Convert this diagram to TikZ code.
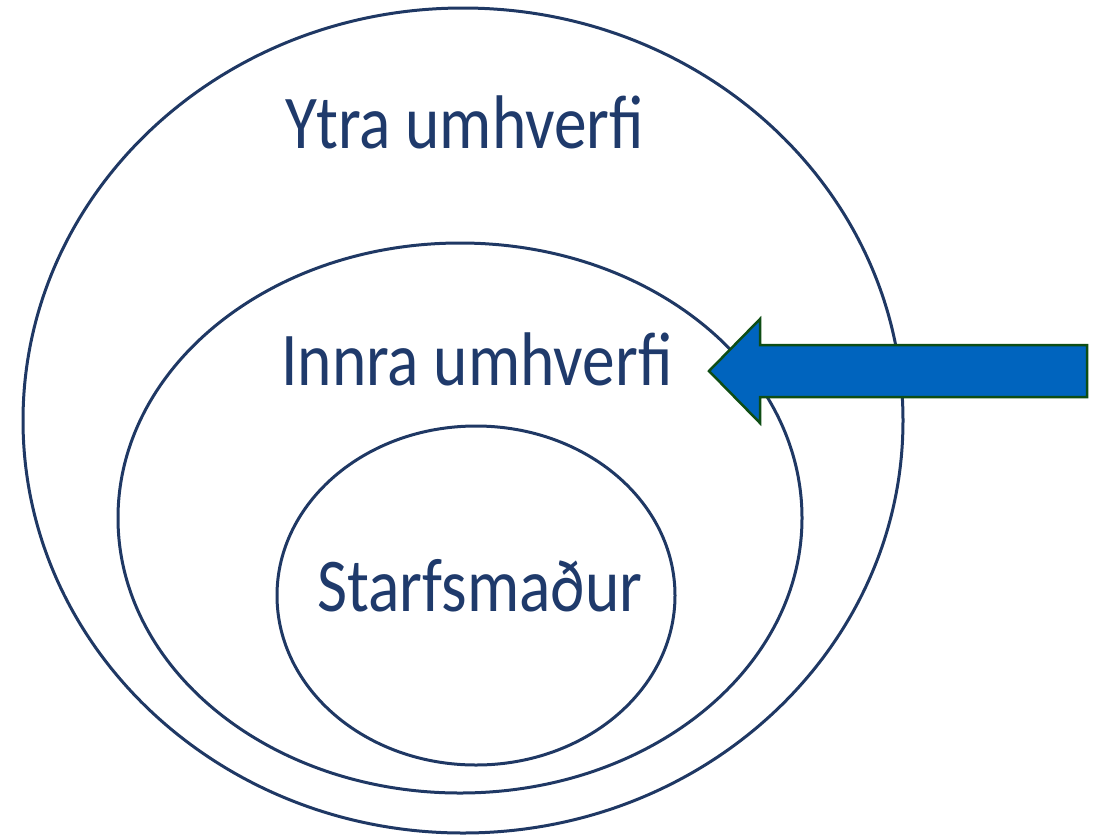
\documentclass[tikz,border=0pt]{standalone}
\usepackage{fontspec}
\setmainfont{Carlito}
\definecolor{ringc}{HTML}{1F3864}
\definecolor{textc}{HTML}{1F3A6B}
\definecolor{arrowfill}{HTML}{0064BE}
\definecolor{arrowline}{HTML}{0E4D14}
\newcommand{\narrowtext}[1]{\scalebox{0.86}[1]{#1}}
\begin{document}
\begin{tikzpicture}[x=1pt,y=-1pt,
  ring/.style={draw=ringc,line width=3pt},
  label/.style={text=textc,anchor=base,inner sep=0pt,font=\fontsize{76}{90}\selectfont},
  bigarrow/.style={fill=arrowfill,draw=arrowline,line width=2.5pt,line join=miter}]
\useasboundingbox (0,0) rectangle (1102,839);
\draw[ring] (463,420.5) ellipse [x radius=440, y radius=412.5];
\draw[ring] (460,518) ellipse [x radius=342, y radius=275];
\draw[ring] (476,595.5) ellipse [x radius=199, y radius=169.5];
\node[label] (ytra) at (465,148) {\narrowtext{Ytra umhverfi}};
\node[label] (innra) at (477,385) {\narrowtext{Innra umhverfi}};
\node[label] (starf) at (480,611) {\narrowtext{Starfsmaður}};
\draw[bigarrow] (709,371) -- (760,319) -- (760,345) -- (1087,345) -- (1087,397) -- (760,397) -- (760,423) -- cycle;
\end{tikzpicture}
\end{document}
